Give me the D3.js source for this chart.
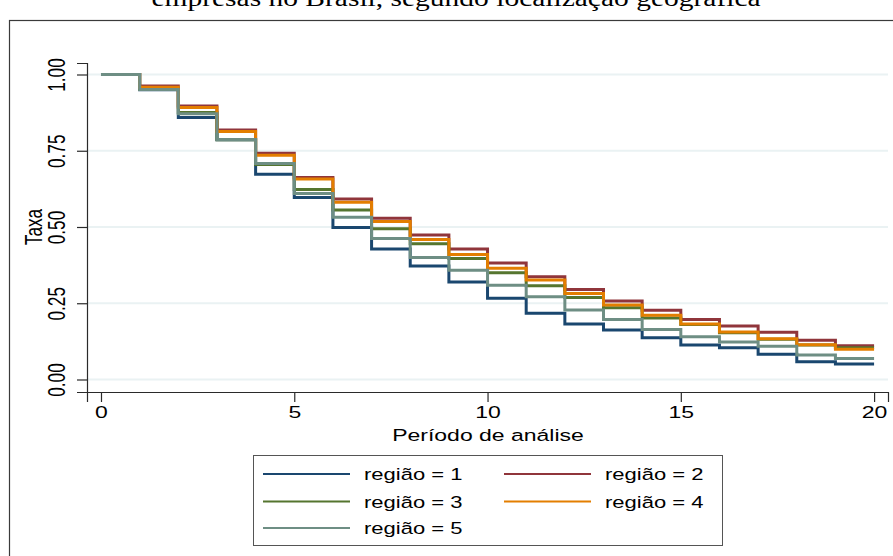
<!DOCTYPE html>
<html>
<head>
<meta charset="utf-8">
<script src="https://cdn.jsdelivr.net/npm/d3@7/dist/d3.min.js"></script>
<style>
  html, body { margin: 0; padding: 0; background: #ffffff; }
  svg { display: block; }
</style>
</head>
<body>
<svg id="chart" width="893" height="556"></svg>
<script>
// ---------------- data ----------------
const titleText = "empresas no Brasil, segundo localização geográfica";
const xLabel = "Período de análise";
const yLabel = "Taxa";
const periods = [0,1,2,3,4,5,6,7,8,9,10,11,12,13,14,15,16,17,18,19];
const xEnd = 20;
const xTicks = [0, 5, 10, 15, 20];
const yTicks = [0, 0.25, 0.5, 0.75, 1];
const seriesNames = ["região = 1", "região = 2", "região = 3", "região = 4", "região = 5"];
const regiao1 = [1.000,0.950,0.859,0.786,0.673,0.597,0.498,0.428,0.372,0.320,0.266,0.217,0.182,0.162,0.137,0.113,0.104,0.083,0.058,0.051];
const regiao2 = [1.000,0.962,0.897,0.818,0.742,0.662,0.592,0.529,0.474,0.428,0.382,0.337,0.295,0.257,0.227,0.197,0.175,0.155,0.129,0.111];
const regiao3 = [1.000,0.952,0.875,0.786,0.705,0.623,0.556,0.494,0.445,0.397,0.350,0.307,0.269,0.235,0.202,0.180,0.153,0.132,0.113,0.104];
const regiao4 = [1.000,0.958,0.892,0.813,0.735,0.657,0.581,0.518,0.459,0.410,0.365,0.326,0.282,0.244,0.211,0.182,0.156,0.134,0.114,0.099];
const regiao5 = [1.000,0.951,0.871,0.787,0.708,0.610,0.532,0.462,0.400,0.358,0.309,0.271,0.228,0.197,0.164,0.140,0.123,0.109,0.080,0.069];
const colors = ["#1a476f", "#90353b", "#55752f", "#e37e00", "#6e8e84"];

// ---------------- layout ----------------
const svg = d3.select("#chart");
const SY = 0.75; // vertical squeeze of the text in the reference
const sans = "'Liberation Sans', Arial, sans-serif";

const x = d3.scaleLinear().domain([-0.362, 20.36]).range([87, 888]);
const y = d3.scaleLinear().domain([-0.041, 1.0377]).range([392, 63]);

// outer frame
svg.append("rect").attr("x", 9.5).attr("y", 20.5).attr("width", 1000).attr("height", 1000)
  .attr("fill", "none").attr("stroke", "#3a3a3a").attr("stroke-width", 1.2);

// title (partly cut at the top)
svg.append("text").text(titleText)
  .attr("transform", `translate(456,6) scale(1,${SY})`)
  .attr("text-anchor", "middle")
  .attr("font-family", "'Liberation Serif', 'Times New Roman', serif")
  .attr("font-size", 29.5).attr("fill", "#000");

// gridlines
svg.append("g").selectAll("line").data(yTicks).join("line")
  .attr("x1", 88).attr("x2", 888)
  .attr("y1", d => y(d)).attr("y2", d => y(d))
  .attr("stroke", "#eaf2f3").attr("stroke-width", 2);

// axes
const yAxis = svg.append("g").attr("transform", "translate(87,0)")
  .call(d3.axisLeft(y).tickValues(yTicks).tickFormat(d3.format(".2f")).tickSizeOuter(0).tickSize(10));
const xAxis = svg.append("g").attr("transform", "translate(0,392)")
  .call(d3.axisBottom(x).tickValues(xTicks).tickFormat(d3.format("d")).tickSizeOuter(0).tickSize(10));

[yAxis, xAxis].forEach(g => {
  g.select(".domain").attr("stroke", "#2a2a2a").attr("stroke-width", 1.2);
  g.selectAll(".tick line").attr("stroke", "#2a2a2a").attr("stroke-width", 1.2);
  g.selectAll(".tick text").attr("fill", "#000").attr("font-family", sans).attr("font-size", 23);
});
yAxis.selectAll(".tick text")
  .attr("x", null).attr("dy", null)
  .attr("text-anchor", "middle")
  .attr("transform", `translate(-22,0) scale(1,${SY}) rotate(-90)`);
xAxis.selectAll(".tick text")
  .attr("y", null).attr("dy", null)
  .attr("text-anchor", "middle")
  .attr("transform", `translate(0,26) scale(1,${SY})`);

// axis titles
svg.append("text").text(yLabel)
  .attr("transform", `translate(42,227) scale(1,${SY}) rotate(-90)`)
  .attr("text-anchor", "middle").attr("font-family", sans).attr("font-size", 23).attr("fill", "#000");
svg.append("text").text(xLabel)
  .attr("transform", `translate(488,441) scale(1,${SY})`)
  .attr("text-anchor", "middle").attr("font-family", sans).attr("font-size", 23).attr("fill", "#000");

// step curves
const allSeries = [regiao1, regiao2, regiao3, regiao4, regiao5];
const line = d3.line().x(d => x(d[0])).y(d => y(d[1])).curve(d3.curveStepAfter);
allSeries.forEach((vals, i) => {
  const pts = periods.map((t, k) => [t, vals[k]]);
  pts.push([xEnd, vals[vals.length - 1]]);
  svg.append("path").datum(pts)
    .attr("d", line)
    .attr("fill", "none")
    .attr("stroke", colors[i])
    .attr("stroke-width", 3)
    .attr("stroke-linejoin", "miter")
    .attr("stroke-linecap", "butt");
});

// legend
const lg = svg.append("g");
lg.append("rect").attr("x", 253.5).attr("y", 455.5).attr("width", 469).attr("height", 90)
  .attr("fill", "#fff").attr("stroke", "#555").attr("stroke-width", 1);
const rowsY = [474, 501.5, 528];
const colX = [263, 504];
seriesNames.forEach((name, i) => {
  const cx = colX[i % 2];
  const cy = rowsY[Math.floor(i / 2)];
  lg.append("line").attr("x1", cx).attr("x2", cx + 87).attr("y1", cy).attr("y2", cy)
    .attr("stroke", colors[i]).attr("stroke-width", 2);
  lg.append("text").text(name)
    .attr("transform", `translate(${cx + 101},${cy + 6}) scale(1,${SY})`)
    .attr("font-family", sans).attr("font-size", 22).attr("fill", "#000");
});
</script>
</body>
</html>
